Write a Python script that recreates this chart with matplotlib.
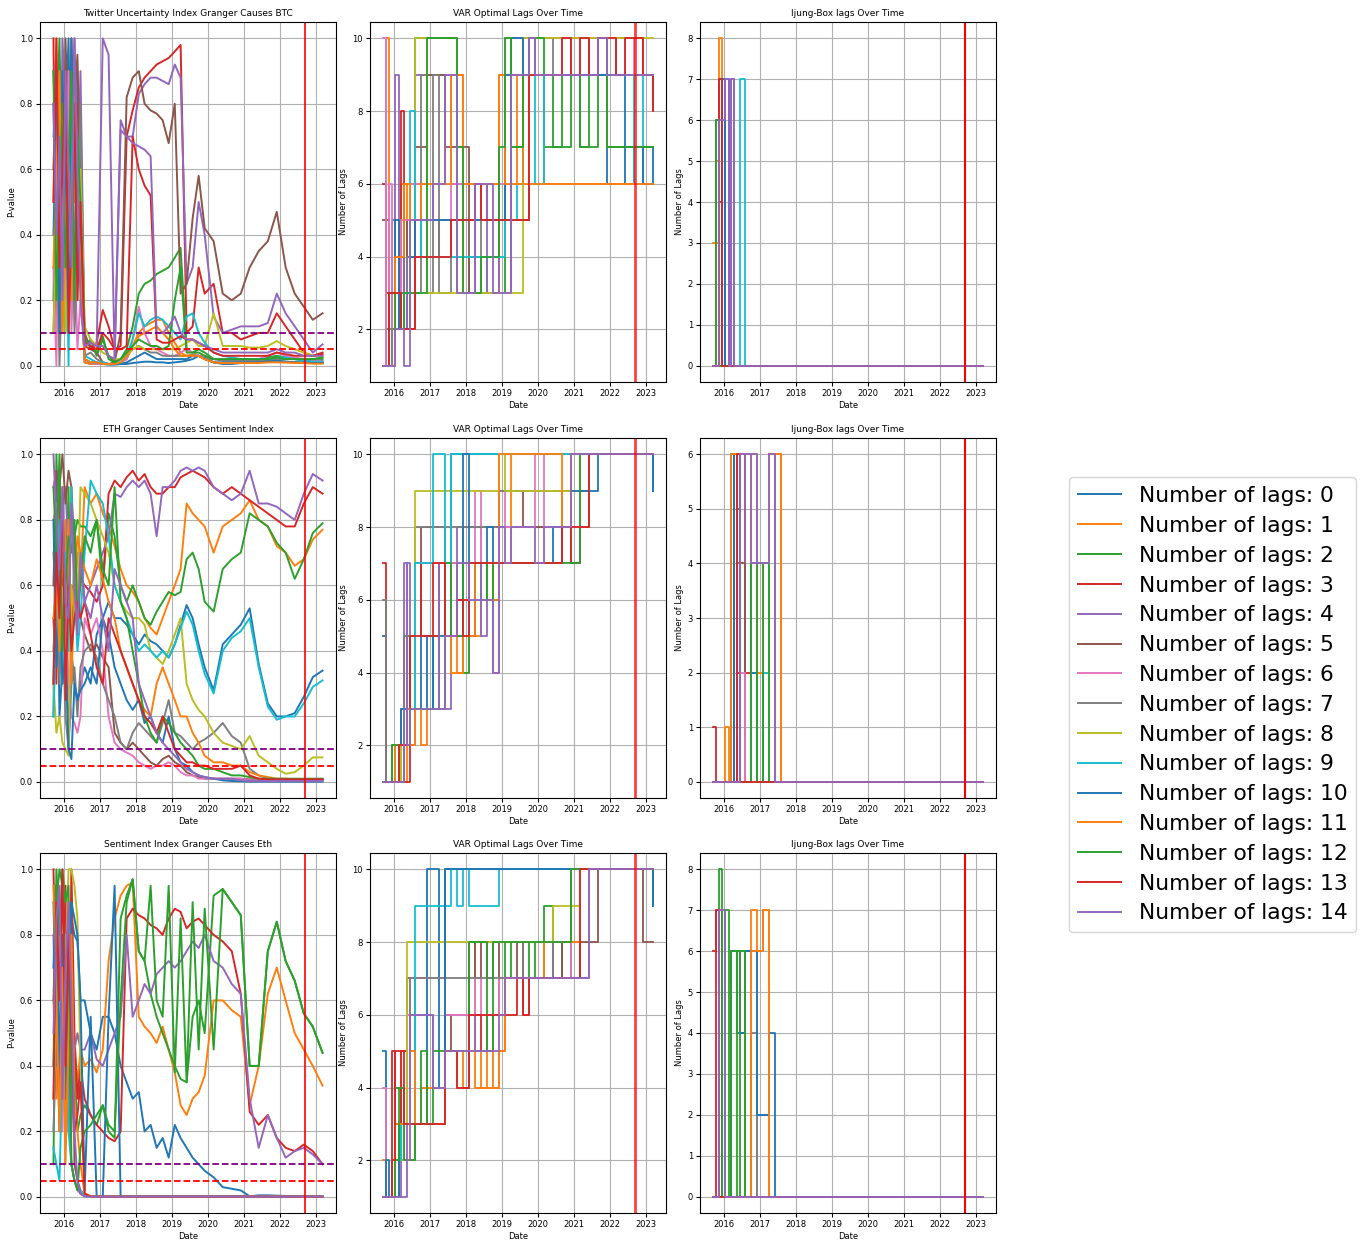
import matplotlib
matplotlib.use('Agg')
import matplotlib.pyplot as plt
import matplotlib.dates as mdates
import matplotlib.ticker as mticker
import pandas as pd

# sampling dates (monthly early on, coarser later)
dates = ['2015-09-20', '2015-10-20', '2015-11-20', '2015-12-20', '2016-01-20', '2016-02-20', '2016-03-20', '2016-04-20', '2016-05-20', '2016-06-20',
         '2016-08-01', '2016-10-01', '2016-12-01', '2017-02-01', '2017-04-01', '2017-06-01', '2017-08-01', '2017-10-01', '2017-12-01', '2018-02-01',
         '2018-04-01', '2018-06-01', '2018-08-01', '2018-10-01', '2018-12-01', '2019-02-01', '2019-04-01', '2019-06-01', '2019-08-01', '2019-10-01',
         '2019-12-01', '2020-03-01', '2020-06-01', '2020-09-01', '2020-12-01', '2021-03-01', '2021-06-01', '2021-09-01', '2021-12-01', '2022-03-01',
         '2022-06-01', '2022-09-01', '2022-12-01', '2023-03-10']
# ljung-box lags only move before mid 2017, flat zero afterwards
lb_dates = ['2015-09-20', '2015-10-20', '2015-11-20', '2015-12-20', '2016-01-20', '2016-02-20', '2016-03-20', '2016-04-20', '2016-05-20', '2016-06-20',
            '2016-08-01', '2016-10-01', '2016-12-01', '2017-02-01', '2017-04-01', '2017-06-01', '2017-08-01', '2023-03-10']
merge_date = '2022-09-15'
lag_labels = ['Number of lags: %d' % i for i in range(15)]

# ---- p-values, one row per lag count ----
btc_pvals = [
    [0.8,0.3,0.9,0.2,0.7,1.0,0.4,0.6,0.9,0.3, 0.01,0.005,0.005,0.005,0.003,0.003,0.005,0.005,0.008,0.01, 0.012,0.012,0.01,0.01,0.008,0.01,0.012,0.015,0.02,0.03, 0.025,0.01,0.005,0.005,0.008,0.01,0.012,0.015,0.015,0.012, 0.01,0.008,0.008,0.008],
    [0.5,1.0,0.2,0.8,0.6,0.3,0.9,0.5,0.7,0.4, 0.01,0.005,0.005,0.005,0.005,0.005,0.01,0.02,0.06,0.1, 0.12,0.13,0.14,0.14,0.1,0.07,0.04,0.03,0.035,0.03, 0.02,0.01,0.008,0.008,0.01,0.01,0.01,0.012,0.012,0.01, 0.01,0.008,0.008,0.008],
    [0.2,0.7,1.0,0.5,0.1,0.8,0.6,0.9,0.3,0.6, 0.06,0.08,0.03,0.08,0.03,0.01,0.02,0.05,0.12,0.22, 0.25,0.26,0.28,0.29,0.3,0.33,0.36,0.05,0.04,0.05, 0.04,0.02,0.02,0.02,0.02,0.02,0.02,0.025,0.03,0.025, 0.02,0.02,0.02,0.02],
    [1.0,0.1,0.6,0.9,0.3,0.5,1.0,0.2,0.8,0.7, 0.06,0.05,0.07,0.17,0.12,0.05,0.06,0.7,0.78,0.85, 0.88,0.9,0.92,0.93,0.94,0.96,0.98,0.1,0.12,0.3, 0.22,0.25,0.1,0.1,0.08,0.09,0.1,0.1,0.16,0.12, 0.08,0.04,0.03,0.04],
    [0.9,0.6,0.3,1.0,0.8,0.2,0.7,1.0,0.5,0.9, 0.08,0.07,0.06,1.0,0.95,0.02,0.75,0.7,0.7,0.83, 0.86,0.88,0.88,0.87,0.86,0.92,0.88,0.25,0.3,0.5, 0.4,0.15,0.1,0.11,0.12,0.12,0.12,0.13,0.22,0.16, 0.12,0.08,0.04,0.065],
    [0.6,0.9,0.4,0.1,1.0,0.7,0.3,0.8,0.95,0.5, 0.1,0.05,0.04,0.01,0.005,0.01,0.1,0.82,0.88,0.9, 0.8,0.78,0.77,0.75,0.68,0.8,0.22,0.25,0.45,0.58, 0.42,0.38,0.22,0.2,0.22,0.3,0.35,0.38,0.47,0.3, 0.22,0.18,0.14,0.16],
    [0.3,0.0,0.8,0.6,0.2,0.9,0.1,0.4,0.05,0.2, 0.02,0.01,0.005,0.005,0.005,0.005,0.01,0.02,0.08,0.18, 0.1,0.06,0.05,0.04,0.03,0.03,0.04,0.05,0.04,0.03, 0.03,0.02,0.02,0.02,0.02,0.02,0.02,0.03,0.04,0.03, 0.025,0.02,0.015,0.015],
    [0.1,0.5,0.0,0.3,0.9,0.4,0.6,0.1,0.3,0.8, 0.03,0.04,0.02,0.01,0.005,0.005,0.01,0.03,0.05,0.06, 0.05,0.04,0.04,0.03,0.03,0.03,0.03,0.03,0.03,0.03, 0.02,0.02,0.015,0.015,0.015,0.015,0.015,0.02,0.02,0.02, 0.02,0.015,0.012,0.012],
    [0.1,0.4,0.2,0.7,0.1,0.3,0.5,0.9,0.2,0.6, 0.12,0.08,0.06,0.04,0.03,0.02,0.02,0.03,0.05,0.06, 0.05,0.05,0.05,0.05,0.05,0.05,0.06,0.07,0.08,0.06, 0.06,0.16,0.06,0.06,0.06,0.055,0.055,0.06,0.075,0.06, 0.05,0.04,0.03,0.03],
    [0.7,0.9,0.5,0.3,0.6,0.0,0.8,0.3,0.6,0.25, 0.03,0.02,0.01,0.01,0.005,0.005,0.01,0.03,0.08,0.16, 0.12,0.14,0.15,0.14,0.12,0.1,0.08,0.15,0.16,0.1, 0.07,0.04,0.03,0.025,0.02,0.02,0.02,0.02,0.025,0.025, 0.02,0.015,0.012,0.012],
    [0.4,0.8,0.1,0.9,0.5,0.2,1.0,0.7,0.3,0.4, 0.02,0.01,0.01,0.005,0.005,0.005,0.005,0.01,0.02,0.03, 0.04,0.03,0.02,0.02,0.02,0.02,0.02,0.02,0.03,0.03, 0.02,0.01,0.01,0.01,0.01,0.01,0.01,0.012,0.015,0.012, 0.01,0.01,0.008,0.008],
    [0.3,0.6,0.9,0.1,0.4,0.7,0.2,0.95,0.6,0.3, 0.02,0.01,0.01,0.005,0.005,0.005,0.01,0.03,0.06,0.09, 0.1,0.11,0.12,0.1,0.08,0.05,0.03,0.03,0.03,0.03, 0.02,0.01,0.008,0.008,0.008,0.008,0.008,0.01,0.01,0.01, 0.008,0.008,0.006,0.006],
    [0.9,0.2,0.5,0.8,0.3,0.6,0.9,0.2,0.7,0.5, 0.08,0.06,0.04,0.09,0.02,0.01,0.02,0.04,0.06,0.08, 0.07,0.06,0.06,0.05,0.06,0.2,0.3,0.04,0.04,0.04, 0.03,0.02,0.02,0.02,0.02,0.02,0.02,0.02,0.025,0.02, 0.02,0.02,0.02,0.025],
    [0.5,1.0,0.3,0.6,0.9,0.1,0.4,0.8,0.2,0.5, 0.07,0.06,0.05,0.1,0.08,0.05,0.05,0.06,0.7,0.6, 0.55,0.52,0.08,0.07,0.07,0.08,0.09,0.08,0.08,0.07, 0.06,0.04,0.03,0.03,0.03,0.03,0.03,0.03,0.04,0.035, 0.03,0.03,0.03,0.035],
    [0.8,0.4,0.7,0.2,0.9,0.6,0.3,1.0,0.6,0.2, 0.06,0.07,0.06,0.06,0.03,0.02,0.72,0.7,0.68,0.67, 0.66,0.64,0.1,0.1,0.12,0.15,0.1,0.08,0.08,0.07, 0.06,0.05,0.04,0.04,0.04,0.04,0.04,0.04,0.05,0.04, 0.04,0.03,0.03,0.03],
]

eth_pvals = [
    [0.3,0.9,0.2,0.35,0.6,0.1,0.4,0.3,0.25,0.3, 0.35,0.3,0.45,0.5,0.55,0.5,0.5,0.48,0.45,0.42, 0.45,0.43,0.42,0.4,0.38,0.42,0.48,0.54,0.5,0.42, 0.35,0.28,0.42,0.45,0.48,0.53,0.36,0.24,0.2,0.2, 0.21,0.26,0.32,0.34],
    [0.7,0.5,0.95,0.3,0.8,0.6,0.9,0.55,0.7,0.6, 0.9,0.85,0.88,0.82,0.78,0.72,0.65,0.6,0.58,0.55, 0.5,0.47,0.45,0.5,0.55,0.6,0.65,0.85,0.82,0.8, 0.78,0.7,0.78,0.8,0.82,0.86,0.8,0.78,0.72,0.7, 0.66,0.68,0.74,0.77],
    [0.2,1.0,0.7,0.85,0.5,0.9,0.3,0.75,0.8,0.78, 0.78,0.75,0.8,0.6,0.82,0.75,0.6,0.55,0.6,0.55, 0.5,0.48,0.52,0.55,0.58,0.57,0.58,0.68,0.7,0.65, 0.55,0.52,0.65,0.68,0.7,0.82,0.8,0.78,0.73,0.7, 0.62,0.68,0.76,0.79],
    [0.5,0.3,0.9,0.6,0.7,0.55,0.6,0.58,0.55,0.62, 0.6,0.58,0.55,0.6,0.88,0.92,0.9,0.93,0.95,0.92, 0.94,0.9,0.88,0.88,0.9,0.9,0.93,0.94,0.95,0.94, 0.93,0.9,0.88,0.9,0.88,0.86,0.84,0.82,0.8,0.78, 0.78,0.85,0.9,0.88],
    [0.9,0.95,0.6,0.85,0.9,0.7,0.8,0.75,0.5,0.7, 0.55,0.6,0.65,0.7,0.75,0.88,0.87,0.9,0.92,0.9, 0.92,0.88,0.75,0.9,0.9,0.92,0.95,0.96,0.95,0.96, 0.95,0.9,0.88,0.86,0.88,0.95,0.85,0.85,0.84,0.82, 0.8,0.88,0.94,0.92],
    [0.6,0.95,0.9,1.0,0.85,0.95,0.9,0.7,0.6,0.5, 0.45,0.4,0.42,0.38,0.35,0.15,0.12,0.1,0.12,0.1, 0.08,0.06,0.05,0.07,0.08,0.06,0.05,0.03,0.02,0.015, 0.01,0.01,0.01,0.01,0.01,0.008,0.008,0.008,0.008,0.008, 0.008,0.008,0.008,0.008],
    [0.8,0.85,0.75,0.8,0.6,0.3,0.2,0.18,0.15,0.2, 0.5,0.45,0.5,0.4,0.2,0.12,0.1,0.09,0.08,0.06, 0.05,0.04,0.05,0.05,0.06,0.05,0.03,0.02,0.02,0.01, 0.01,0.01,0.01,0.01,0.01,0.005,0.005,0.005,0.005,0.005, 0.005,0.005,0.005,0.005],
    [0.4,0.6,0.3,0.5,0.2,0.1,0.3,0.35,0.2,0.35, 0.4,0.42,0.38,0.3,0.25,0.2,0.12,0.1,0.15,0.18, 0.16,0.14,0.12,0.18,0.25,0.15,0.14,0.12,0.1,0.12, 0.13,0.15,0.18,0.14,0.12,0.04,0.02,0.01,0.008,0.008, 0.008,0.008,0.008,0.008],
    [0.3,0.15,0.2,0.12,0.1,0.08,0.6,0.5,0.55,0.9, 0.88,0.85,0.8,0.75,0.7,0.6,0.55,0.52,0.5,0.5, 0.48,0.4,0.38,0.36,0.4,0.45,0.5,0.3,0.25,0.22, 0.2,0.15,0.12,0.11,0.1,0.14,0.08,0.06,0.04,0.025, 0.03,0.05,0.075,0.075],
    [0.2,0.5,0.8,0.3,0.7,0.4,0.9,0.6,0.4,0.5, 0.7,0.92,0.88,0.85,0.75,0.6,0.55,0.5,0.45,0.4, 0.42,0.4,0.38,0.4,0.38,0.42,0.47,0.52,0.48,0.4, 0.33,0.27,0.4,0.44,0.46,0.5,0.35,0.23,0.19,0.2, 0.2,0.24,0.29,0.31],
    [0.8,0.35,0.6,0.3,0.4,0.1,0.07,0.3,0.25,0.28, 0.3,0.35,0.3,0.5,0.45,0.35,0.3,0.25,0.22,0.25, 0.18,0.2,0.15,0.12,0.2,0.1,0.06,0.05,0.03,0.02, 0.015,0.01,0.005,0.003,0.002,0.001,0.001,0.001,0.001,0.001, 0.001,0.001,0.001,0.001],
    [0.5,0.6,0.4,0.7,0.55,0.8,0.3,0.6,0.75,0.7, 0.65,0.6,0.68,0.62,0.55,0.5,0.4,0.35,0.3,0.25, 0.22,0.2,0.3,0.35,0.3,0.25,0.2,0.2,0.15,0.12, 0.08,0.06,0.06,0.05,0.05,0.03,0.02,0.015,0.01,0.01, 0.008,0.008,0.008,0.008],
    [0.9,0.7,1.0,0.4,0.6,0.75,0.7,0.8,0.5,0.6, 0.75,0.7,0.8,0.65,0.6,0.9,0.55,0.5,0.4,0.3, 0.2,0.15,0.12,0.2,0.18,0.15,0.12,0.1,0.08,0.05, 0.04,0.04,0.03,0.02,0.02,0.015,0.01,0.01,0.01,0.01, 0.01,0.01,0.01,0.01],
    [0.3,0.7,0.5,0.9,0.25,0.6,0.4,0.5,0.55,0.5, 0.55,0.45,0.35,0.3,0.5,0.45,0.4,0.35,0.3,0.25, 0.2,0.18,0.15,0.2,0.15,0.1,0.08,0.06,0.06,0.05, 0.05,0.04,0.04,0.04,0.05,0.02,0.01,0.008,0.008,0.008, 0.008,0.008,0.008,0.008],
    [1.0,0.8,0.65,0.9,0.55,0.5,0.85,0.6,0.45,0.7, 0.55,0.5,0.6,0.5,0.4,0.65,0.6,0.55,0.5,0.3, 0.25,0.2,0.15,0.12,0.1,0.08,0.06,0.04,0.03,0.02, 0.015,0.01,0.01,0.01,0.005,0.003,0.003,0.003,0.003,0.003, 0.003,0.003,0.003,0.003],
]

sent_pvals = [
    [0.9,0.5,0.3,0.6,0.2,0.7,0.85,0.8,0.78,0.6, 0.6,0.5,0.45,0.55,0.55,0.5,0.4,0.35,0.3,0.32, 0.2,0.22,0.15,0.18,0.12,0.22,0.18,0.15,0.12,0.1, 0.08,0.06,0.03,0.025,0.02,0.002,0.005,0.005,0.004,0.003, 0.002,0.002,0.001,0.001],
    [0.6,0.3,0.9,0.5,0.2,0.8,0.3,0.45,0.35,0.45, 0.4,0.42,0.38,0.45,0.72,0.85,0.92,0.95,0.96,0.55, 0.52,0.5,0.47,0.52,0.45,0.38,0.28,0.25,0.3,0.32, 0.37,0.6,0.6,0.57,0.55,0.28,0.4,0.62,0.7,0.6, 0.5,0.45,0.4,0.34],
    [0.1,0.9,1.0,0.95,0.6,0.9,0.3,0.4,0.2,0.25, 0.28,0.25,0.22,0.28,0.2,0.18,0.85,0.92,0.97,0.75, 0.72,0.62,0.55,0.5,0.45,0.4,0.36,0.35,0.55,0.6, 0.5,0.92,0.94,0.9,0.86,0.4,0.4,0.75,0.84,0.72, 0.66,0.56,0.52,0.44],
    [1.0,0.6,0.2,0.5,0.95,0.3,1.0,0.5,0.3,0.4, 0.3,0.25,0.22,0.2,0.18,0.17,0.2,0.85,0.88,0.86, 0.85,0.83,0.82,0.8,0.85,0.88,0.87,0.82,0.84,0.85, 0.83,0.8,0.78,0.75,0.62,0.26,0.22,0.25,0.18,0.15, 0.14,0.16,0.14,0.1],
    [0.8,0.4,0.9,0.7,0.3,0.6,0.2,0.45,0.5,0.45, 0.45,0.5,0.42,0.4,0.45,0.5,0.55,0.8,0.55,0.6, 0.65,0.62,0.68,0.7,0.72,0.7,0.72,0.75,0.78,0.76, 0.8,0.72,0.7,0.65,0.62,0.3,0.15,0.25,0.18,0.12, 0.14,0.15,0.13,0.1],
    [0.6,0.95,0.3,0.8,0.5,0.2,0.9,0.1,0.05,0.02, 0.005,0.002,0.001,0.001,0.001,0.001,0.001,0.001,0.001,0.001, 0.001,0.001,0.001,0.001,0.001,0.001,0.001,0.001,0.001,0.001, 0.001,0.001,0.001,0.001,0.001,0.001,0.001,0.001,0.001,0.001, 0.001,0.001,0.001,0.001],
    [0.4,0.7,0.9,0.2,0.6,0.3,0.1,0.05,0.02,0.01, 0.003,0.001,0.001,0.001,0.001,0.001,0.001,0.001,0.001,0.001, 0.001,0.001,0.001,0.001,0.001,0.001,0.001,0.001,0.001,0.001, 0.001,0.001,0.001,0.001,0.001,0.001,0.001,0.001,0.001,0.001, 0.001,0.001,0.001,0.001],
    [0.2,0.5,0.7,0.4,0.8,0.3,0.1,0.05,0.03,0.01, 0.002,0.001,0.001,0.001,0.001,0.001,0.001,0.001,0.001,0.001, 0.001,0.001,0.001,0.001,0.001,0.001,0.001,0.001,0.001,0.001, 0.001,0.001,0.001,0.001,0.001,0.001,0.001,0.001,0.001,0.001, 0.001,0.001,0.001,0.001],
    [0.3,0.6,0.8,0.5,0.7,1.0,1.0,0.95,0.85,0.4, 0.01,0.002,0.001,0.001,0.001,0.001,0.001,0.001,0.001,0.001, 0.001,0.001,0.001,0.001,0.001,0.001,0.001,0.001,0.001,0.001, 0.001,0.001,0.001,0.001,0.001,0.001,0.001,0.001,0.001,0.001, 0.001,0.001,0.001,0.001],
    [0.15,0.1,0.05,0.4,0.7,0.2,0.1,0.05,0.03,0.02, 0.005,0.001,0.001,0.001,0.001,0.001,0.001,0.001,0.001,0.001, 0.001,0.001,0.001,0.001,0.001,0.001,0.001,0.001,0.001,0.001, 0.001,0.001,0.001,0.001,0.001,0.001,0.001,0.001,0.001,0.001, 0.001,0.001,0.001,0.001],
    [0.7,0.95,0.4,0.8,0.3,0.6,0.9,0.85,0.8,0.6, 0.02,0.55,0.001,0.001,0.55,0.95,0.001,0.001,0.001,0.001, 0.001,0.001,0.001,0.001,0.001,0.001,0.001,0.001,0.001,0.001, 0.001,0.001,0.001,0.001,0.001,0.001,0.001,0.001,0.001,0.001, 0.001,0.001,0.001,0.001],
    [0.95,0.6,0.2,0.7,0.1,0.5,0.8,0.3,0.2,0.1, 0.01,0.002,0.001,0.001,0.001,0.001,0.001,0.001,0.001,0.001, 0.001,0.001,0.001,0.001,0.001,0.001,0.001,0.001,0.001,0.001, 0.001,0.001,0.001,0.001,0.001,0.001,0.001,0.001,0.001,0.001, 0.001,0.001,0.001,0.001],
    [0.4,1.0,0.8,1.0,0.9,0.95,0.1,0.05,0.02,0.15, 0.2,0.22,0.25,0.28,0.22,0.2,0.6,0.9,0.97,0.75, 0.72,0.95,0.6,0.55,0.95,0.38,0.85,0.35,0.9,0.45, 0.88,0.45,0.94,0.9,0.86,0.4,0.4,0.75,0.84,0.72, 0.66,0.56,0.52,0.44],
    [0.3,0.9,0.6,1.0,0.4,0.8,0.5,0.2,0.25,0.35, 0.01,0.002,0.001,0.001,0.001,0.001,0.001,0.001,0.001,0.001, 0.001,0.001,0.001,0.001,0.001,0.001,0.001,0.001,0.001,0.001, 0.001,0.001,0.001,0.001,0.001,0.001,0.001,0.001,0.001,0.001, 0.001,0.001,0.001,0.001],
    [0.5,0.85,0.95,0.3,0.7,0.9,0.6,0.2,0.05,0.01, 0.002,0.001,0.001,0.001,0.001,0.001,0.001,0.001,0.001,0.001, 0.001,0.001,0.001,0.001,0.001,0.001,0.001,0.001,0.001,0.001, 0.001,0.001,0.001,0.001,0.001,0.001,0.001,0.001,0.001,0.001, 0.001,0.001,0.001,0.001],
]

# ---- VAR optimal lags (step series on the same dates) ----
btc_var = [
    [1,5,1,5,2,4,2,5,2,5, 5,5,5,5,5,5,5,5,5,5, 5,5,5,5,5,5,5,5,5,9, 9,9,9,9,9,9,9,9,6,6, 7,6,7,6],
    [1,10,1,2,4,4,6,6,5,6, 6,6,6,6,6,9,9,9,3,3, 3,3,3,3,9,9,9,6,6,9, 9,6,6,6,6,6,6,6,6,6, 6,6,6,6],
    [1,2,3,2,3,3,3,2,2,3, 10,10,10,10,10,10,10,3,3,4, 4,4,3,3,3,10,7,7,10,10, 9,7,7,9,9,7,7,9,7,7, 7,7,7,7],
    [6,3,3,3,2,2,8,2,5,2, 4,4,4,4,5,5,5,5,5,5, 5,6,5,5,5,5,5,5,5,9, 9,9,9,9,10,9,10,9,9,10, 10,10,9,8],
    [1,1,1,1,9,2,2,5,2,4, 9,9,9,9,9,9,6,6,6,6, 3,3,6,6,3,3,9,9,10,9, 9,9,9,9,9,9,9,9,9,9, 9,9,9,9],
    [5,5,1,1,2,4,4,5,4,4, 7,7,9,9,9,7,7,7,7,3, 3,3,3,3,3,3,10,10,9,9, 9,9,9,9,9,9,10,9,9,9, 9,9,9,9],
    [10,1,6,1,3,3,5,5,5,6, 6,5,5,5,5,5,6,6,6,6, 6,6,6,6,6,10,10,10,10,10, 10,10,10,9,9,10,10,10,9,9, 10,9,9,9],
    [1,1,2,1,2,3,3,3,4,3, 3,9,3,9,3,3,5,5,5,5, 5,3,3,3,3,3,9,9,9,10, 10,10,9,9,9,9,9,10,9,9, 9,9,9,9],
    [1,1,1,1,2,2,2,3,3,5, 10,10,3,3,3,3,3,3,3,3, 3,3,3,3,3,3,3,3,10,10, 10,10,10,10,10,10,10,10,10,10, 10,10,10,10],
    [1,1,1,1,2,2,2,3,3,8, 5,4,4,4,4,4,4,4,4,4, 4,4,4,4,4,5,5,6,9,9, 6,9,9,9,9,9,9,9,9,9, 9,6,9,9],
    [1,1,1,1,5,2,2,2,2,4, 5,5,5,5,5,5,5,5,5,5, 5,5,5,5,5,9,10,10,9,9, 9,9,9,9,9,9,9,9,9,9, 7,7,6,6],
    [1,1,1,1,4,4,4,6,6,5, 5,6,6,6,6,6,9,9,6,6, 6,6,6,6,9,6,6,6,9,6, 6,6,6,6,6,6,6,6,6,6, 6,6,6,6],
    [1,1,3,3,2,2,2,3,3,3, 3,3,10,10,10,10,10,7,3,3, 3,4,4,4,7,10,7,7,9,10, 10,9,7,7,9,7,9,10,7,7, 7,7,7,7],
    [1,1,3,3,3,3,2,2,2,2, 4,4,4,4,4,4,5,5,5,5, 6,5,5,5,5,5,5,5,5,9, 9,9,9,10,9,10,9,10,10,9, 10,10,9,8],
    [1,1,1,1,2,2,2,1,1,5, 5,5,5,6,6,9,9,3,3,3, 6,6,6,3,3,3,9,9,9,10, 9,9,9,9,9,9,9,10,9,9, 9,9,9,9],
]

eth_var = [
    [5,1,1,1,1,2,3,3,3,3, 3,3,5,3,5,5,10,10,10,10, 10,10,10,10,10,10,10,10,10,10, 10,10,10,10,10,10,10,10,10,10, 10,10,10,9],
    [1,1,1,1,2,2,1,1,2,3, 3,2,3,3,3,5,5,4,4,5, 5,7,7,6,7,7,10,10,10,10, 10,10,10,10,10,10,10,10,10,10, 10,10,10,10],
    [1,1,1,2,2,1,1,5,3,3, 7,5,5,5,3,7,7,5,4,7, 7,6,7,6,7,7,7,7,7,7, 7,7,7,9,7,10,10,10,10,10, 10,10,10,10],
    [7,1,1,1,1,1,1,1,1,5, 7,5,5,5,7,5,5,6,6,5, 7,7,7,7,7,7,7,7,7,7, 7,7,7,8,7,8,10,10,10,10, 10,10,10,10],
    [1,1,1,1,1,1,1,2,7,2, 7,7,7,7,3,3,7,8,8,8, 8,6,6,4,8,8,8,8,8,8, 8,8,8,8,9,10,10,10,10,10, 10,10,10,10],
    [1,1,1,1,1,1,1,2,2,3, 7,8,8,8,8,5,5,5,8,8, 8,8,8,8,9,9,9,9,8,8, 8,8,8,8,10,9,10,10,10,10, 10,10,10,10],
    [1,1,1,1,1,1,1,2,2,3, 7,7,7,7,7,7,7,7,7,7, 9,7,7,7,9,8,8,8,8,8, 10,8,8,8,8,10,10,10,10,10, 10,10,10,10],
    [6,1,1,1,1,1,1,2,2,3, 8,8,8,8,8,8,8,8,8,8, 8,8,8,8,9,9,9,9,9,9, 9,9,9,9,9,10,10,10,10,10, 10,10,10,10],
    [1,1,1,1,1,1,2,2,2,3, 9,9,9,9,9,9,9,9,9,9, 9,9,9,9,10,9,9,9,9,9, 9,9,9,9,9,10,10,10,10,10, 10,10,10,10],
    [1,1,1,1,2,2,2,2,3,3, 7,7,7,10,10,7,10,10,10,10, 10,10,10,10,10,10,10,10,10,10, 10,10,10,10,10,10,10,10,10,10, 10,10,10,10],
    [1,1,1,1,1,2,3,3,3,3, 3,5,5,3,3,5,5,5,10,5, 7,7,8,7,7,7,7,7,7,7, 7,7,8,8,9,9,9,10,10,10, 10,10,10,9],
    [1,1,1,1,2,2,2,2,3,2, 3,3,3,3,3,5,4,4,5,5, 7,7,7,6,10,10,10,10,10,10, 10,10,10,8,10,10,10,10,10,10, 10,10,10,10],
    [1,1,1,2,2,1,1,2,5,3, 3,3,3,3,3,7,5,5,7,7, 7,7,6,7,7,7,7,7,7,7, 7,7,7,7,7,10,10,10,10,10, 10,10,10,10],
    [1,1,1,1,1,2,2,2,2,5, 5,5,5,7,7,5,5,6,5,7, 7,7,7,7,7,7,7,7,7,7, 7,7,7,8,8,8,10,10,10,10, 10,10,10,10],
    [1,1,1,1,1,1,1,7,2,3, 3,3,3,3,3,5,5,7,7,6, 6,5,6,4,8,7,8,8,8,8, 7,8,8,8,10,10,10,10,10,10, 10,10,10,10],
]

sent_var = [
    [5,1,1,1,3,3,3,3,3,3, 3,3,10,10,4,10,10,10,10,10, 10,10,10,10,10,10,10,10,10,10, 10,10,10,10,10,10,10,10,10,10, 10,10,10,9],
    [2,1,1,1,3,3,5,5,3,5, 3,4,4,4,4,5,5,5,5,8, 5,4,5,4,5,7,7,7,7,7, 7,7,7,7,8,10,10,10,10,10, 10,10,10,10],
    [1,1,1,1,4,4,2,2,2,2, 3,5,3,3,3,5,5,5,5,8, 8,8,8,8,8,7,8,8,8,7, 8,9,8,7,10,10,10,10,10,10, 10,10,10,10],
    [1,1,1,5,3,3,5,5,3,3, 3,3,3,3,3,5,5,4,4,6, 6,5,6,6,6,7,7,7,6,7, 7,7,7,7,7,10,10,10,10,10, 10,10,10,10],
    [1,1,1,1,1,1,2,2,3,6, 6,6,6,4,4,6,6,6,6,6, 5,5,5,6,6,7,7,7,7,7, 7,7,7,7,7,7,10,10,10,10, 10,10,10,10],
    [1,1,1,1,1,3,3,3,7,7, 3,3,3,3,3,6,5,5,5,8, 7,8,7,8,6,7,7,8,7,7, 7,8,7,8,8,8,8,10,10,10, 10,10,8,8],
    [4,1,1,1,2,2,2,3,6,7, 7,7,7,7,7,6,6,6,6,6, 7,6,6,6,7,7,7,7,7,7, 7,7,7,7,8,10,10,10,10,10, 10,10,10,10],
    [1,1,1,1,2,2,2,3,3,7, 7,7,7,7,7,7,7,7,7,7, 7,7,7,7,7,7,7,7,8,8, 8,7,8,8,8,10,10,10,10,10, 10,10,10,10],
    [1,1,1,1,2,2,2,3,8,8, 8,8,8,8,8,8,8,8,8,8, 8,8,8,8,8,8,8,8,8,8, 8,8,9,9,9,10,10,10,10,10, 10,10,10,10],
    [1,1,1,1,2,2,3,3,3,3, 9,9,9,9,9,9,10,9,10,9, 9,9,9,9,10,10,10,10,10,10, 10,10,10,10,10,10,10,10,10,10, 10,10,10,10],
    [1,2,1,1,1,3,3,3,3,3, 3,3,3,3,3,10,10,10,10,10, 10,10,10,10,10,10,10,10,10,10, 10,10,10,10,10,10,10,10,10,10, 10,10,10,9],
    [1,1,1,1,3,3,3,3,3,5, 3,3,3,3,3,5,5,4,5,5, 4,4,4,4,5,7,7,7,7,7, 7,8,8,8,8,10,10,10,10,10, 10,10,10,10],
    [1,1,1,1,2,4,4,2,2,2, 3,3,3,5,5,5,5,5,5,8, 8,8,5,8,8,8,8,8,8,8, 8,8,8,8,10,10,10,10,10,10, 10,10,10,10],
    [1,1,1,2,5,5,5,3,3,3, 3,3,3,3,3,5,5,4,4,6, 6,6,6,6,6,6,6,7,6,7, 7,7,7,7,7,10,10,10,10,10, 10,10,10,10],
    [1,1,1,1,1,1,1,1,2,6, 6,6,6,4,4,5,5,5,5,5, 5,5,5,5,6,7,7,7,7,7, 7,7,7,7,7,7,10,10,10,10, 10,10,10,10],
]

# ---- Ljung-Box lags (on lb_dates) ----
btc_lb = [
    [0,0,0,0,7,0,0,0,0,0,0,0,0,0,0,0,0,0],
    [3,5,8,0,0,0,0,0,0,0,0,0,0,0,0,0,0,0],
    [0,6,6,0,0,0,0,0,0,0,0,0,0,0,0,0,0,0],
    [0,0,4,0,0,0,0,0,0,0,0,0,0,0,0,0,0,0],
    [0,0,6,7,0,0,7,0,0,0,0,0,0,0,0,0,0,0],
    [0,0,7,0,0,0,0,0,0,0,0,0,0,0,0,0,0,0],
    [0,0,0,0,0,0,0,0,0,0,0,0,0,0,0,0,0,0],
    [0,0,0,0,0,0,0,0,0,0,0,0,0,0,0,0,0,0],
    [0,0,0,0,0,0,0,0,0,0,0,0,0,0,0,0,0,0],
    [0,0,0,0,0,0,0,0,0,7,0,0,0,0,0,0,0,0],
    [0,0,0,7,0,0,0,0,0,0,0,0,0,0,0,0,0,0],
    [0,3,0,0,0,0,0,0,0,0,0,0,0,0,0,0,0,0],
    [0,6,0,0,0,0,0,0,0,0,0,0,0,0,0,0,0,0],
    [0,0,7,0,0,0,0,0,0,0,0,0,0,0,0,0,0,0],
    [0,0,6,6,7,0,7,0,0,0,0,0,0,0,0,0,0,0],
]

eth_lb = [
    [0,0,0,0,0,0,6,6,0,6,6,4,0,0,0,0,0,0],
    [0,0,0,0,1,0,0,6,6,4,6,6,4,4,6,6,0,0],
    [0,0,0,0,0,0,0,6,6,0,6,0,4,4,0,0,0,0],
    [1,0,0,0,0,0,0,6,2,6,2,0,0,0,0,0,0,0],
    [0,0,0,0,0,0,0,0,0,0,6,6,4,4,6,0,0,0],
    [0,0,0,0,0,0,0,6,5,4,0,0,0,0,0,0,0,0],
    [0,0,0,0,0,0,0,0,4,2,0,0,0,0,0,0,0,0],
    [0,0,0,0,0,0,0,0,4,0,0,0,0,0,0,0,0,0],
    [0,0,0,0,0,0,0,0,0,0,0,0,0,2,0,0,0,0],
    [0,0,0,0,0,0,0,0,0,0,0,2,2,2,0,0,0,0],
    [0,0,0,0,0,0,6,0,6,6,6,2,4,0,0,0,0,0],
    [0,0,0,0,0,0,6,6,6,6,6,4,2,4,6,6,0,0],
    [0,0,0,0,0,0,0,0,0,0,0,4,0,4,0,0,0,0],
    [0,0,0,0,0,0,0,0,6,0,0,0,0,0,0,0,0,0],
    [0,0,0,0,0,0,0,0,0,6,6,4,4,4,6,0,0,0],
]

sent_lb = [
    [0,0,0,0,0,0,6,6,6,4,6,0,2,2,0,0,0,0],
    [0,0,0,0,0,0,0,0,0,0,0,7,6,7,0,0,0,0],
    [0,0,8,7,7,0,6,6,6,6,0,0,0,0,0,0,0,0],
    [6,7,0,0,0,0,0,0,0,0,0,0,0,0,0,0,0,0],
    [0,0,7,7,0,0,0,0,0,0,0,0,0,0,0,0,0,0],
    [0,0,0,7,0,0,0,0,0,0,0,0,0,0,0,0,0,0],
    [0,0,0,0,0,0,0,0,0,0,0,6,0,0,0,0,0,0],
    [0,0,0,0,0,0,0,0,0,0,0,4,0,0,0,0,0,0],
    [0,0,0,0,0,0,0,0,0,0,0,0,0,0,0,0,0,0],
    [0,0,0,0,0,0,0,0,0,0,0,0,0,0,0,0,0,0],
    [0,0,0,0,0,0,6,6,4,4,6,6,2,2,4,0,0,0],
    [0,0,0,0,0,0,0,0,0,0,0,6,6,7,0,0,0,0],
    [0,0,0,7,0,0,6,6,0,6,0,0,0,0,0,0,0,0],
    [0,7,0,0,0,0,0,0,0,0,0,0,0,0,0,0,0,0],
    [0,0,7,7,0,0,0,0,0,0,0,0,0,0,0,0,0,0],
]

pval_titles = ['Twitter Uncertainty Index Granger Causes BTC', 'ETH Granger Causes Sentiment Index', 'Sentiment Index Granger Causes Eth']

x = pd.to_datetime(dates)
x_lb = pd.to_datetime(lb_dates)
merge = pd.Timestamp(merge_date)

W, H = 1364, 1243
fig = plt.figure(figsize=(W / 100, H / 100), dpi=100)

col_left = [40, 370, 700]        # pixel positions of the axes
row_bottom = [382, 798, 1213]
ax_w, ax_h = 296, 360


def make_ax(row, col):
    return fig.add_axes([col_left[col] / W, 1 - row_bottom[row] / H, ax_w / W, ax_h / H])


def style(ax, title, ylabel):
    ax.set_title(title, fontsize=6.5, pad=4)
    ax.set_xlabel('Date', fontsize=6, labelpad=2)
    ax.set_ylabel(ylabel, fontsize=6, labelpad=3)
    ax.xaxis.set_major_locator(mdates.YearLocator())
    ax.xaxis.set_major_formatter(mdates.DateFormatter('%Y'))
    ax.tick_params(labelsize=6, length=3, pad=2)
    ax.grid(True)


pvals = [btc_pvals, eth_pvals, sent_pvals]
vars_ = [btc_var, eth_var, sent_var]
lbs = [btc_lb, eth_lb, sent_lb]

first_ax = None
for r in range(3):
    # p-value panel
    ax = make_ax(r, 0)
    for lag, vals in enumerate(pvals[r]):
        ax.plot(x, vals, lw=1.4, label=lag_labels[lag])
    ax.axhline(0.05, color='red', ls='--', lw=1.3)
    ax.axhline(0.1, color='purple', ls='--', lw=1.3)
    ax.axvline(merge, color='red', lw=1.2)
    ax.yaxis.set_major_locator(mticker.MultipleLocator(0.2))
    style(ax, pval_titles[r], 'P-value')
    if first_ax is None:
        first_ax = ax

    # VAR lags panel
    ax = make_ax(r, 1)
    for lag, vals in enumerate(vars_[r]):
        ax.step(x, vals, where='post', lw=1.3)
    ax.axvline(merge, color='red', lw=2, alpha=0.75)
    ax.yaxis.set_major_locator(mticker.MultipleLocator(2))
    style(ax, 'VAR Optimal Lags Over Time', 'Number of Lags')

    # Ljung-Box panel
    ax = make_ax(r, 2)
    for lag, vals in enumerate(lbs[r]):
        ax.step(x_lb, vals, where='post', lw=1.3)
    ax.axvline(merge, color='red', lw=1.5)
    ax.yaxis.set_major_locator(mticker.MultipleLocator(1))
    style(ax, 'ljung-Box lags Over Time', 'Number of Lags')

handles, labels = first_ax.get_legend_handles_labels()
fig.legend(handles, labels, loc='center', bbox_to_anchor=(0.889, 0.433), fontsize=15.7, labelspacing=0.45)

fig.savefig('out.png', dpi=100)
